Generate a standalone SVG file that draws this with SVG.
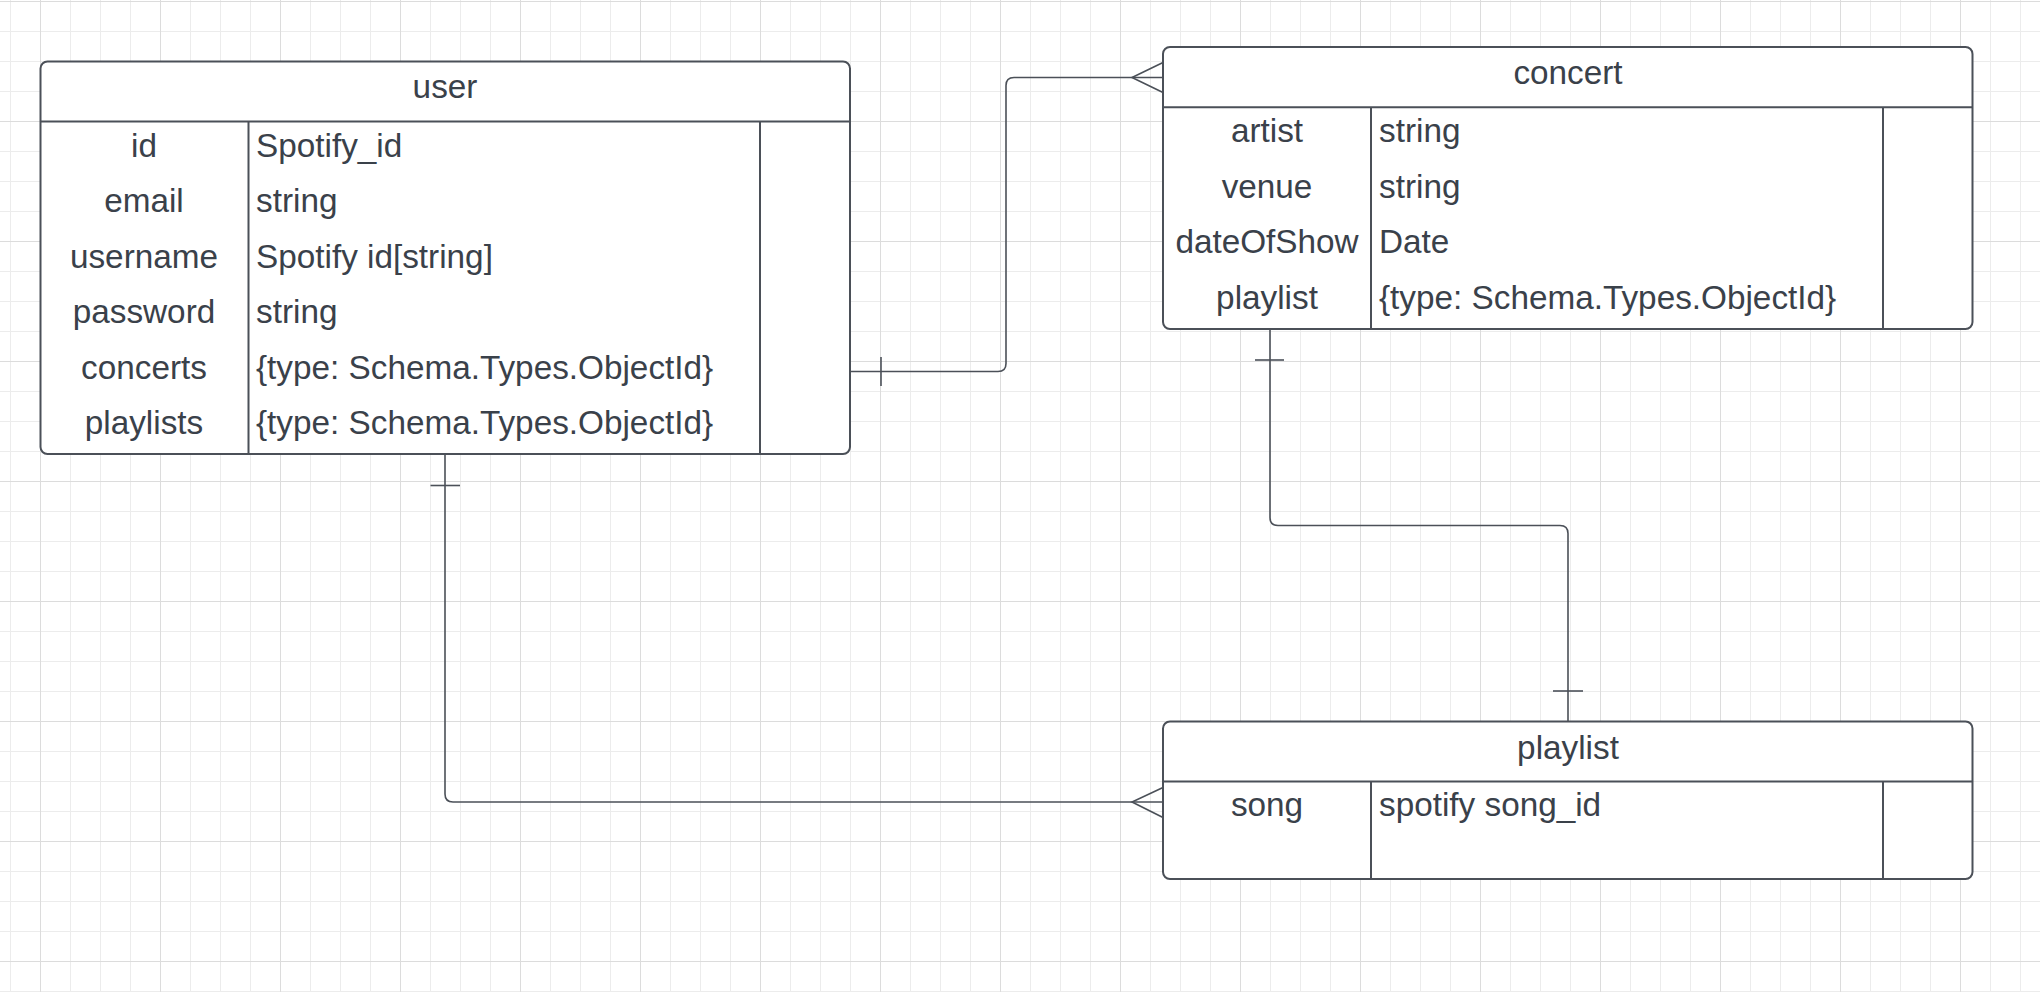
<svg xmlns="http://www.w3.org/2000/svg" width="2040" height="992" viewBox="0 0 2040 992">
<style>
.box{fill:#ffffff;stroke:#4b5058;stroke-width:2}
.div{fill:none;stroke:#4b5058;stroke-width:2}
.t{font-family:"Liberation Sans",Arial,sans-serif;font-size:33.3px;fill:#3a414a}
.c{text-anchor:middle}
.conn{fill:none;stroke:#4b5058;stroke-width:1.6}
</style>
<defs>
<pattern id="grid" x="10" y="1" width="120" height="120" patternUnits="userSpaceOnUse">
<path d="M0.5,0 V120 M60.5,0 V120 M90.5,0 V120 M0,30.5 H120 M0,60.5 H120 M0,90.5 H120" stroke="#ececec" stroke-width="1" fill="none"/>
<path d="M30.5,0 V120 M0,0.5 H120" stroke="#dcdcdc" stroke-width="1" fill="none"/>
</pattern>
</defs>
<rect width="2040" height="992" fill="#ffffff"/>
<rect width="2040" height="992" fill="url(#grid)"/>

<g id="connectors">
<path class="conn" d="M850,371.5 H998 Q1006,371.5 1006,363.5 V85.5 Q1006,77.5 1014,77.5 H1163"/>
<path class="conn" d="M881,357 V386"/>
<path class="conn" d="M1163,62.5 L1132,77.5 L1163,92.5"/>
<path class="conn" d="M1270,329 V517.5 Q1270,525.5 1278,525.5 H1560 Q1568,525.5 1568,533.5 V721.5"/>
<path class="conn" d="M1255,360 H1284"/>
<path class="conn" d="M1553,691 H1583"/>
<path class="conn" d="M445,454 V794 Q445,802 453,802 H1163"/>
<path class="conn" d="M430.5,485.5 H460"/>
<path class="conn" d="M1163,787.5 L1132,802 L1163,817.5"/>
</g>

<g id="user">
<rect class="box" x="40.5" y="61.5" width="809.5" height="392.5" rx="7"/>
<path class="div" d="M40.5,121.5 H850 M248.5,121.5 V454 M760,121.5 V454"/>
<text class="t c" x="445" y="98">user</text>
<text class="t c" x="144" y="157">id</text>
<text class="t" x="256" y="157">Spotify_id</text>
<text class="t c" x="144" y="212.4">email</text>
<text class="t" x="256" y="212.4">string</text>
<text class="t c" x="144" y="267.8">username</text>
<text class="t" x="256" y="267.8">Spotify id[string]</text>
<text class="t c" x="144" y="323.2">password</text>
<text class="t" x="256" y="323.2">string</text>
<text class="t c" x="144" y="378.6">concerts</text>
<text class="t" x="256" y="378.6">{type: Schema.Types.ObjectId}</text>
<text class="t c" x="144" y="434">playlists</text>
<text class="t" x="256" y="434">{type: Schema.Types.ObjectId}</text>
</g>

<g id="concert">
<rect class="box" x="1163" y="47" width="809.5" height="282" rx="7"/>
<path class="div" d="M1163,107.3 H1972.5 M1371,107.3 V329 M1883,107.3 V329"/>
<text class="t c" x="1568" y="83.5">concert</text>
<text class="t c" x="1267" y="142.3">artist</text>
<text class="t" x="1379" y="142.3">string</text>
<text class="t c" x="1267" y="197.7">venue</text>
<text class="t" x="1379" y="197.7">string</text>
<text class="t c" x="1267" y="253.1">dateOfShow</text>
<text class="t" x="1379" y="253.1">Date</text>
<text class="t c" x="1267" y="308.5">playlist</text>
<text class="t" x="1379" y="308.5">{type: Schema.Types.ObjectId}</text>
</g>

<g id="playlist">
<rect class="box" x="1163" y="721.5" width="809.5" height="157.5" rx="7"/>
<path class="div" d="M1163,781.5 H1972.5 M1371,781.5 V879 M1883,781.5 V879"/>
<text class="t c" x="1568" y="759">playlist</text>
<text class="t c" x="1267" y="816">song</text>
<text class="t" x="1379" y="816">spotify song_id</text>
</g>
</svg>
